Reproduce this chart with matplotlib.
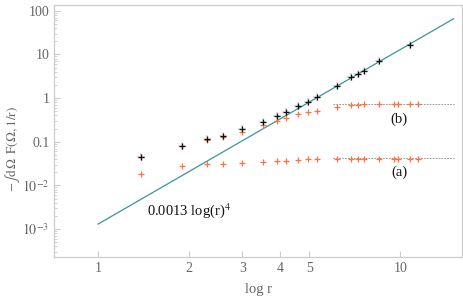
import numpy as np
import matplotlib
matplotlib.use("Agg")
from matplotlib import pyplot as plt
from matplotlib.ticker import FixedLocator, LogLocator, NullFormatter, NullLocator

# log r values of the measured points
log_r = [1.39, 1.90, 2.30, 2.59, 3.00, 3.50, 3.91, 4.20, 4.58, 4.95, 5.30,
         6.15, 6.88, 7.23, 7.57, 8.48, 9.53, 9.83, 10.77, 11.42]

# black points (no cut-off), only measured up to some r
black_x = [1.39, 1.90, 2.30, 2.59, 3.00, 3.50, 3.91, 4.20, 4.58, 4.95, 5.30,
           6.15, 6.88, 7.23, 7.57, 8.48, 10.77]
black_y = [0.0446, 0.081, 0.113, 0.135, 0.192, 0.282, 0.387, 0.471, 0.645,
           0.81, 1.05, 1.88, 2.98, 3.55, 4.27, 6.97, 16.9]

# orange series (b)
b_y = [0.044, 0.079, 0.109, 0.126, 0.169, 0.237, 0.302, 0.348, 0.424, 0.471,
       0.518, 0.639, 0.691, 0.702, 0.717, 0.729, 0.729, 0.729, 0.729, 0.729]
# orange series (a)
a_y = [0.0185, 0.0277, 0.0303, 0.0308, 0.032, 0.0348, 0.0367, 0.037, 0.0387,
       0.0401, 0.0401, 0.0405, 0.0412, 0.0412, 0.0412, 0.0412, 0.0412, 0.0412,
       0.0412, 0.0412]

# plateau levels
b_level = 0.72
a_level = 0.0415

fit_coef = 0.0013

plt.rcParams['font.family'] = ['Liberation Serif', 'DejaVu Serif']
plt.rcParams['mathtext.fontset'] = 'stix'

fig = plt.figure(figsize=(4.63, 3.02), dpi=100)
ax = fig.add_axes([0.117, 0.149, 0.881, 0.834])

gray = '#cccccc'
txt = '#666666'
orange = '#ff7043'

# fit line
fx = np.linspace(1, 15, 200)
ax.plot(fx, fit_coef * fx ** 4, color='#3a9598', lw=0.9, zorder=2)

# plateau guides
ax.plot([6.0, 15.0], [b_level, b_level], ls=(0, (2, 1.5)), color='#888888', lw=0.6, zorder=1)
ax.plot([6.0, 15.0], [a_level, a_level], ls=(0, (2, 1.5)), color='#888888', lw=0.6, zorder=1)

ax.plot(log_r, a_y, '+', color=orange, ms=5, mew=0.9, zorder=3)
ax.plot(log_r, b_y, '+', color=orange, ms=5, mew=0.9, zorder=3)
ax.plot(black_x, black_y, '+', color='#999999', ms=5.5, mew=1.6, alpha=0.3, zorder=4)
ax.plot(black_x, black_y, '+', color='#111111', ms=5, mew=0.9, zorder=5)

ax.set_xscale('log')
ax.set_yscale('log')
ax.set_xlim(0.716, 16.0)
ax.set_ylim(10 ** -3.64, 10 ** 2.13)

ax.xaxis.set_major_locator(FixedLocator([1, 2, 3, 4, 5, 10]))
ax.xaxis.set_minor_locator(NullLocator())
ax.set_xticklabels(['1', '2', '3', '4', '5', '10'])
ax.yaxis.set_major_locator(FixedLocator([1e-3, 1e-2, 0.1, 1, 10, 100]))
ax.set_yticklabels([r'$10^{-3}$', r'$10^{-2}$', '0.1', '1', '10', '100'])
ax.yaxis.set_minor_locator(LogLocator(base=10, subs=np.arange(2, 10)))
ax.yaxis.set_minor_formatter(NullFormatter())

for s in ax.spines.values():
    s.set_color(gray)
    s.set_linewidth(0.9)
ax.tick_params(which='both', direction='in', color=gray, labelcolor=txt,
               labelsize=10, top=False, right=False)
ax.tick_params(which='major', length=4)
ax.tick_params(which='minor', length=2)

ax.set_xlabel('log r', color=txt, fontsize=10.5, labelpad=6)
ax.set_ylabel(r'$-\int\mathrm{d}\,\Omega\;\;\mathrm{F}(\Omega,1/\mathrm{r})$',
              color=txt, fontsize=9.5)
ax.yaxis.set_label_coords(-0.08, 0.43)

ax.text(1.451, 0.00263, r'0.0013 log(r)$^4$', fontsize=10.5, color='#111111',
        ha='left', va='center')
ax.text(9.92, 0.33, '(b)', fontsize=10.5, color='#111111', ha='center', va='center')
ax.text(9.92, 0.0202, '(a)', fontsize=10.5, color='#111111', ha='center', va='center')

fig.savefig('out.png', dpi=100)
